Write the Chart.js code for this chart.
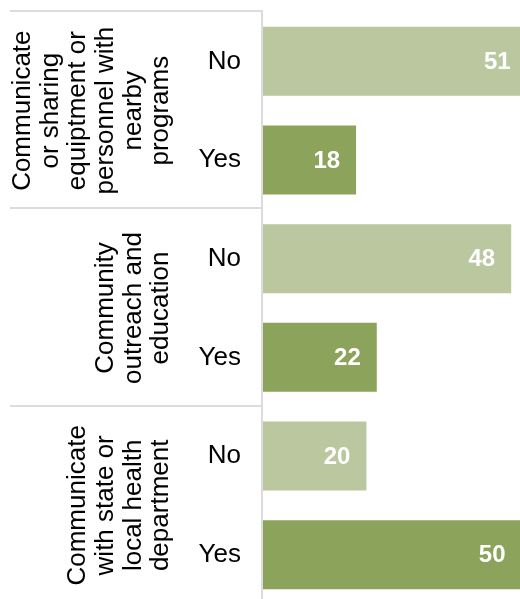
<!DOCTYPE html>
<html>
<head>
<meta charset="utf-8">
<script src="https://cdn.jsdelivr.net/npm/chart.js@4"></script>
<style>
  html, body { margin: 0; padding: 0; overflow: hidden; background: #fff; }
  #wrap { width: 520px; height: 599px; overflow: hidden; }
  canvas { display: block; }
</style>
</head>
<body>
<div id="wrap"><canvas id="barChart" width="520" height="604"></canvas></div>
<script>
// Data
const groups = [
  ['Communicate', 'or sharing', 'equiptment or', 'personnel with', 'nearby', 'programs'],
  ['Community', 'outreach and', 'education'],
  ['Communicate', 'with state or', 'local health', 'department']
];
const responses = ['No', 'Yes', 'No', 'Yes', 'No', 'Yes'];
const values = [51, 18, 48, 22, 20, 50];

const colorNo = '#bbc89f';
const colorYes = '#8ba35b';
const fontFamily = '"Liberation Sans", Arial, Helvetica, sans-serif';

// Group labels (rotated) and separator lines on the left side
const groupPlugin = {
  id: 'groupLabels',
  afterDraw(chart) {
    const ctx = chart.ctx;
    const area = chart.chartArea;
    const slot = (area.bottom - area.top) / responses.length;
    ctx.save();
    ctx.strokeStyle = '#dcdcdc';
    ctx.lineWidth = 2;
    // horizontal separators
    for (let g = 0; g <= groups.length; g++) {
      const y = Math.round(area.top + g * slot * 2) - 1;
      ctx.beginPath();
      ctx.moveTo(10, y);
      ctx.lineTo(area.left - 1, y);
      ctx.stroke();
    }
    // vertical axis line
    ctx.beginPath();
    ctx.moveTo(area.left - 1, area.top - 2);
    ctx.lineTo(area.left - 1, area.bottom + 10);
    ctx.stroke();

    // rotated group labels
    ctx.fillStyle = '#000';
    ctx.font = '26px ' + fontFamily;
    ctx.textAlign = 'center';
    ctx.textBaseline = 'middle';
    const lineGap = 27.6;
    const lastX = 161;
    groups.forEach((lines, g) => {
      const cy = area.top + (g * 2 + 1) * slot;
      ctx.save();
      ctx.translate(0, cy);
      ctx.rotate(-Math.PI / 2);
      lines.forEach((line, i) => {
        const x = lastX - (lines.length - 1 - i) * lineGap;
        ctx.fillText(line, 0, x);
      });
      ctx.restore();
    });
    ctx.restore();
  }
};

// Value labels inside the end of each bar
const valuePlugin = {
  id: 'valueLabels',
  afterDatasetsDraw(chart) {
    const ctx = chart.ctx;
    const meta = chart.getDatasetMeta(0);
    ctx.save();
    ctx.fillStyle = '#fff';
    ctx.font = 'bold 24px ' + fontFamily;
    ctx.textAlign = 'right';
    ctx.textBaseline = 'middle';
    meta.data.forEach((bar, i) => {
      ctx.fillText(String(values[i]), bar.x - 16, bar.y + 1);
    });
    ctx.restore();
  }
};

new Chart(document.getElementById('barChart').getContext('2d'), {
  type: 'bar',
  data: {
    labels: responses,
    datasets: [{
      data: values,
      backgroundColor: responses.map(r => r === 'No' ? colorNo : colorYes),
      borderWidth: 0,
      categoryPercentage: 1,
      barPercentage: 0.7
    }]
  },
  options: {
    indexAxis: 'y',
    responsive: false,
    animation: false,
    layout: { padding: { top: 12, right: 0, bottom: 0, left: 0 } },
    plugins: {
      legend: { display: false },
      tooltip: { enabled: false }
    },
    scales: {
      x: {
        display: false,
        min: 0,
        max: 49.7
      },
      y: {
        grid: { display: false },
        border: { display: false },
        ticks: {
          color: '#000',
          padding: 14,
          font: { family: fontFamily, size: 26 }
        },
        afterFit(scale) {
          scale.width = 263;
          scale.paddingTop = 0;
          scale.paddingBottom = 0;
        }
      }
    }
  },
  plugins: [groupPlugin, valuePlugin]
});
</script>
</body>
</html>
